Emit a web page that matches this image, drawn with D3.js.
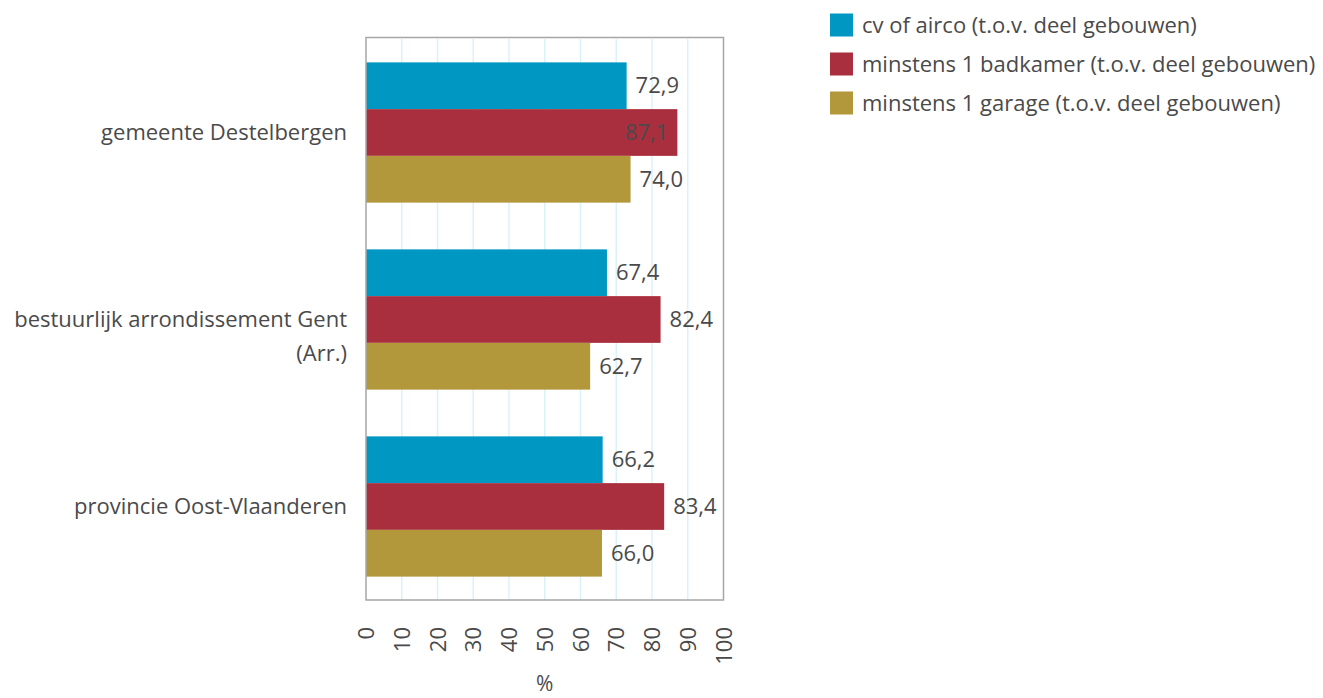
<!DOCTYPE html>
<html><head><meta charset="utf-8">
<script src="https://cdn.jsdelivr.net/npm/d3@7"></script>
<style>
html,body{margin:0;padding:0;background:#fff;}
svg{display:block;font-family:"Open Sans",sans-serif;}
</style></head>
<body><svg id="chart" width="1323" height="698"></svg>
<script>
const categories = ["gemeente Destelbergen", "bestuurlijk arrondissement Gent (Arr.)", "provincie Oost-Vlaanderen"];
const categoryLines = [["gemeente Destelbergen"], ["bestuurlijk arrondissement Gent", "(Arr.)"], ["provincie Oost-Vlaanderen"]];
const seriesNames = ["cv of airco (t.o.v. deel gebouwen)", "minstens 1 badkamer (t.o.v. deel gebouwen)", "minstens 1 garage (t.o.v. deel gebouwen)"];
const cvAirco = [72.9, 67.4, 66.2];
const badkamer = [87.1, 82.4, 83.4];
const garage = [74.0, 62.7, 66.0];
const xTicks = [0, 10, 20, 30, 40, 50, 60, 70, 80, 90, 100];
const colors = ["#0097c3", "#aa2f3e", "#b3973b"];

(function() {
const seriesValues = [cvAirco, badkamer, garage];
const svg = d3.select("#chart");
const pLeft = 366, pRight = 723.5, pTop = 39, pBottom = 600;
const textColor = "#4a4a4a";
const fs = 22;

const x = d3.scaleLinear().domain([0, 100]).range([pLeft, pRight]);
const y = d3.scaleBand().domain(categories).range([pTop, pBottom]).paddingInner(0.25).paddingOuter(0.125);
const ySub = d3.scaleBand().domain(d3.range(3)).range([0, y.bandwidth()]);

svg.append("g").selectAll("line").data(xTicks.slice(1, -1)).join("line")
  .attr("x1", d => x(d)).attr("x2", d => x(d)).attr("y1", pTop).attr("y2", pBottom)
  .attr("stroke", "#dcf2fa").attr("stroke-width", 1.5);

const rows = [];
categories.forEach((c, i) => seriesValues.forEach((s, j) => rows.push({c, j, v: s[i]})));
svg.append("g").selectAll("rect").data(rows).join("rect")
  .attr("x", x(0)).attr("y", d => y(d.c) + ySub(d.j))
  .attr("width", d => x(d.v) - x(0)).attr("height", ySub.bandwidth())
  .attr("fill", d => colors[d.j]);

const fmt = v => d3.format(".1f")(v).replace(".", ",");
svg.append("g").selectAll("text").data(rows).join("text")
  .each(function(d) {
    const t = d3.select(this);
    t.text(fmt(d.v)).attr("font-size", fs).attr("fill", textColor)
      .attr("y", y(d.c) + ySub(d.j) + ySub.bandwidth() / 2).attr("dy", "0.35em");
    const w = this.getComputedTextLength();
    if (x(d.v) + 9 + w > pRight) {
      t.attr("x", x(d.v) - 9).attr("text-anchor", "end");
    } else {
      t.attr("x", x(d.v) + 9).attr("text-anchor", "start");
    }
  });

svg.append("rect").attr("x", pLeft).attr("y", pTop - 1.5).attr("width", pRight - pLeft).attr("height", pBottom - pTop + 1.5)
  .attr("fill", "none").attr("stroke", "#a6a6a6").attr("stroke-width", 1.5);

categories.forEach((c, i) => {
  const t = svg.append("text").attr("text-anchor", "end").attr("font-size", fs).attr("fill", textColor);
  categoryLines[i].forEach((ln, k) => {
    t.append("tspan").attr("x", pLeft - 19).attr("y", y(c) + y.bandwidth() / 2 + k * 34).attr("dy", "0.35em").text(ln);
  });
});

const xAxis = svg.append("g").attr("transform", `translate(0,${pBottom})`)
  .call(d3.axisBottom(x).tickValues(xTicks).tickSize(0).tickFormat(d3.format("d")));
xAxis.select(".domain").remove();
xAxis.selectAll("text")
  .attr("font-size", fs).attr("font-family", "Open Sans, sans-serif").attr("fill", textColor)
  .attr("transform", "translate(0,27) rotate(-90)")
  .attr("text-anchor", "end").attr("x", 0).attr("y", 0).attr("dy", "0.35em");

svg.append("text").attr("x", (pLeft + pRight) / 2).attr("y", 684).attr("dy", "0.35em")
  .attr("text-anchor", "middle").attr("font-size", fs - 1).attr("fill", textColor).text("%");

const lg = svg.append("g");
seriesNames.forEach((n, i) => {
  const cy = 25 + i * 39;
  lg.append("rect").attr("x", 830).attr("y", cy - 11.5).attr("width", 23).attr("height", 23).attr("fill", colors[i]);
  lg.append("text").attr("x", 862).attr("y", cy).attr("dy", "0.35em").attr("font-size", fs).attr("fill", textColor).text(n);
});
})();
</script></body></html>
